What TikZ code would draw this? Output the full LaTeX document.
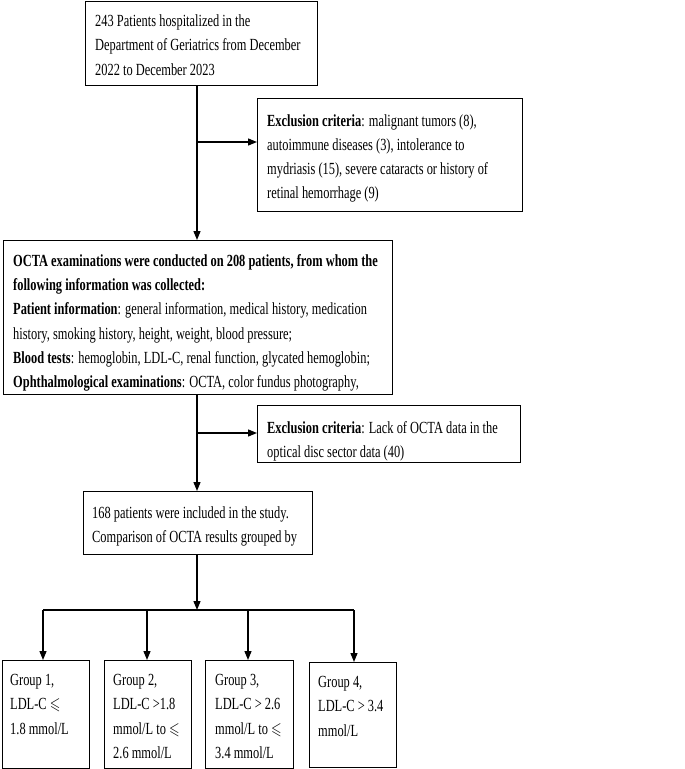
\documentclass[tikz,border=0pt]{standalone}
\usepackage{fontspec}
\setmainfont{Liberation Serif}[FakeStretch=0.73]
\usepackage{amssymb}
\usetikzlibrary{arrows.meta}
\newcommand{\lesl}{\scalebox{0.8}[1]{$\leqslant$}}
\begin{document}
\begin{tikzpicture}[x=1pt,y=-1pt,
  box/.style={draw, line width=1.3pt, inner sep=0pt, anchor=north west},
  txt/.style={anchor=north west, inner sep=0pt, align=left, font=\fontsize{17}{24.3}\selectfont},
  arr/.style={line width=1.3pt, -{Triangle[length=9pt,width=7pt]}},
  ln/.style={line width=1.3pt}]
\useasboundingbox (0,0) rectangle (685,769);

\node[box, minimum width=232pt, minimum height=84pt] (top) at (85,1) {};
\node[txt] (toptxt) at (95,14.5) {243 Patients hospitalized in the\\Department of Geriatrics from December\\2022 to December 2023};

\node[box, minimum width=265pt, minimum height=113pt] (ex1) at (257,98) {};
\node[txt] (ex1txt) at (267,114) {\textbf{Exclusion criteria}: malignant tumors (8),\\autoimmune diseases (3), intolerance to\\mydriasis (15), severe cataracts or history of\\retinal hemorrhage (9)};

\node[box, minimum width=389pt, minimum height=154pt] (big) at (3,240) {};
\node[txt] (bigtxt) at (13,254) {\textbf{OCTA examinations were conducted on 208 patients, from whom the}\\\textbf{following information was collected:}\\\textbf{Patient information}: general information, medical history, medication\\history, smoking history, height, weight, blood pressure;\\\textbf{Blood tests}: hemoglobin, LDL-C, renal function, glycated hemoglobin;\\\textbf{Ophthalmological examinations}: OCTA, color fundus photography,};

\node[box, minimum width=263pt, minimum height=57pt] (ex2) at (257,405) {};
\node[txt] (ex2txt) at (267,421) {\textbf{Exclusion criteria}: Lack of OCTA data in the\\optical disc sector data (40)};

\node[box, minimum width=229pt, minimum height=63pt] (res) at (83,491) {};
\node[txt] (restxt) at (92,506) {168 patients were included in the study.\\Comparison of OCTA results grouped by};

\node[box, minimum width=87pt, minimum height=108pt] (g1) at (2,660) {};
\node[txt] (g1txt) at (10,674) {Group 1,\\LDL-C \lesl\\1.8 mmol/L};
\node[box, minimum width=87pt, minimum height=108pt] (g2) at (104,660) {};
\node[txt] (g2txt) at (113,674) {Group 2,\\LDL-C >1.8\\mmol/L to \lesl\\2.6 mmol/L};
\node[box, minimum width=88pt, minimum height=108pt] (g3) at (205,660) {};
\node[txt] (g3txt) at (215,674) {Group 3,\\LDL-C > 2.6\\mmol/L to \lesl\\3.4 mmol/L};
\node[box, minimum width=87pt, minimum height=105pt] (g4) at (309,662) {};
\node[txt] (g4txt) at (318,676) {Group 4,\\LDL-C > 3.4\\mmol/L};

\coordinate (s1) at (197,142);
\coordinate (s2) at (197,433);
\coordinate (sp) at (197,610);
\coordinate (h1) at (43,610);
\coordinate (h2) at (147,610);
\coordinate (h3) at (248,610);
\coordinate (h4) at (354,610);

\draw[arr] (top.south -| s1) -- (big.north -| s1);
\draw[arr] (s1) -- (s1 -| ex1.west);
\draw[arr] (big.south -| s2) -- (res.north -| s2);
\draw[arr] (s2) -- (s2 -| ex2.west);
\draw[arr] (res.south -| sp) -- (sp);
\draw[ln] (h1) -- (h4);
\draw[arr] (h1) -- (g1.north -| h1);
\draw[arr] (h2) -- (g2.north -| h2);
\draw[arr] (h3) -- (g3.north -| h3);
\draw[arr] (h4) -- (g4.north -| h4);
\end{tikzpicture}
\end{document}
